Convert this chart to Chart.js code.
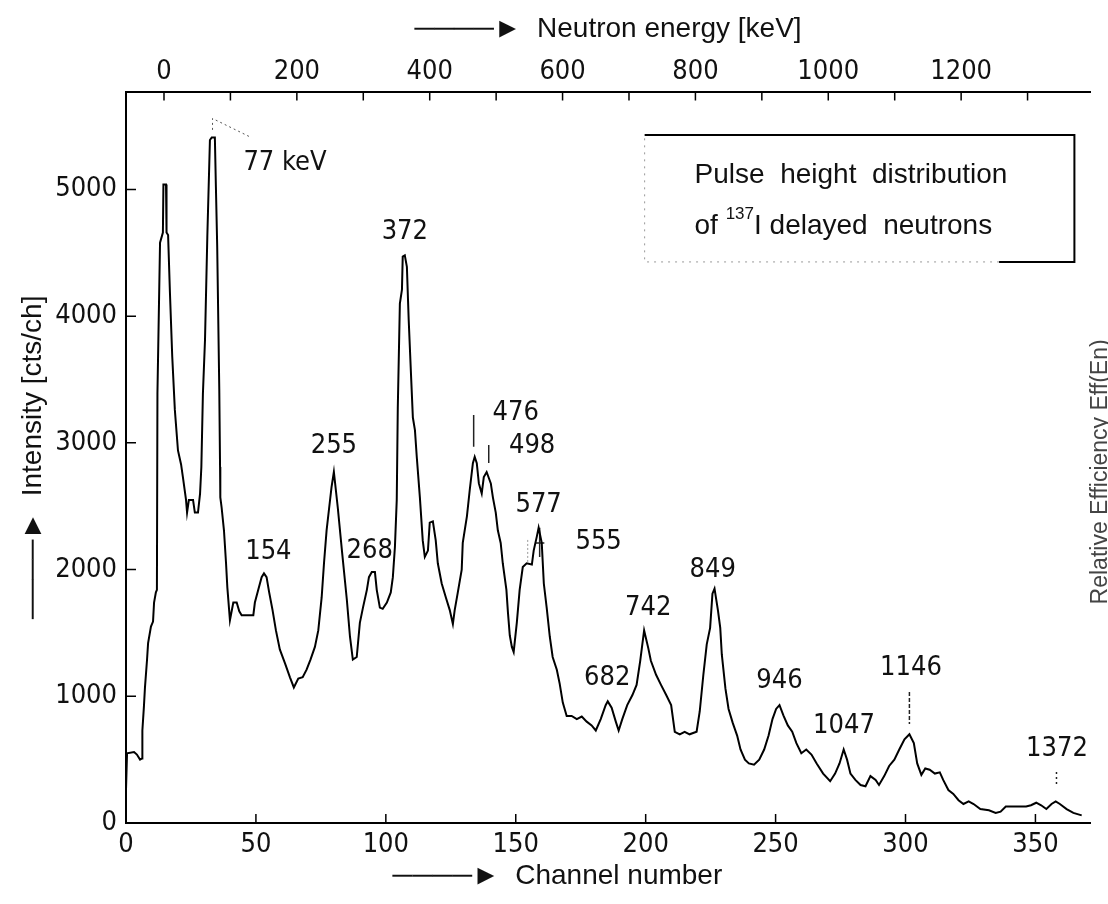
<!DOCTYPE html>
<html>
<head>
<meta charset="utf-8">
<title>Pulse height distribution of 137I delayed neutrons</title>
<script src="https://cdn.jsdelivr.net/npm/chart.js@4/dist/chart.umd.min.js"></script>
<style>
  html, body { margin: 0; padding: 0; background: #fff; }
  #wrap { position: relative; width: 1108px; height: 904px; }
</style>
</head>
<body>
<div id="wrap"><canvas id="spectrum"></canvas></div>
<script>
// spectrum (channel, counts per channel)
const channels = [
  0, 0.4, 3.1, 4.2, 5.4, 6.2, 6.3, 6.9, 7.3, 8.1, 8.5, 9.6, 10.4, 10.8, 11.5, 11.9, 12.1, 13.1, 14.2, 14.4,
  15.4, 15.6, 16.2, 16.9, 17.8, 18.8, 20.0, 21.2, 21.9, 23.1, 23.5, 24.2, 25.8, 26.5, 27.7, 28.5, 29.0, 29.6, 30.4, 31.3,
  32.3, 33.0, 34.2, 34.6, 35.1, 35.9, 36.2, 36.3, 36.8, 37.7, 38.5, 39.0, 40.0, 41.3, 42.6, 43.6, 44.5, 46.4, 49.0, 49.6,
  50.9, 52.2, 53.1, 54.1, 55.1, 56.4, 57.7, 59.2, 61.2, 63.1, 64.6, 66.3, 68.0, 69.5, 71.0, 72.7, 74.0, 75.3, 76.2, 77.2,
  78.2, 79.1, 80.0, 81.5, 83.1, 85.0, 86.2, 87.3, 88.8, 90.0, 91.2, 92.7, 93.5, 94.6, 95.8, 96.5, 97.7, 98.8, 100.4, 101.9,
  102.7, 103.5, 104.2, 104.6, 105.4, 106.2, 106.5, 107.3, 108.1, 108.8, 109.6, 110.4, 111.2, 111.9, 113.1, 114.2, 115.0, 116.2, 116.9, 118.1,
  119.2, 120.0, 121.5, 123.1, 124.6, 125.8, 126.5, 127.7, 129.2, 129.6, 131.2, 132.3, 133.5, 134.2, 135.0, 135.8, 136.9, 137.7, 138.8, 140.4,
  141.2, 142.3, 143.1, 144.2, 145.0, 146.4, 147.0, 147.7, 148.5, 149.2, 150.4, 151.5, 152.7, 154.2, 156.2, 156.9, 158.1, 158.8, 160.0, 160.8,
  161.9, 163.1, 164.2, 165.8, 166.9, 168.1, 169.6, 171.5, 173.5, 175.4, 177.3, 179.2, 180.8, 182.7, 184.6, 185.4, 186.9, 188.5, 189.6, 191.0,
  192.9, 194.9, 196.5, 197.9, 199.4, 201.0, 202.0, 204.0, 205.9, 207.9, 209.8, 211.2, 213.1, 215.0, 216.9, 219.6, 220.8, 222.2, 223.5, 224.8,
  225.7, 226.5, 227.8, 228.7, 229.3, 230.7, 231.9, 233.5, 235.2, 236.5, 238.2, 239.7, 241.7, 243.7, 245.6, 247.3, 248.8, 250.2, 251.5, 253.0,
  254.7, 256.4, 258.0, 259.9, 261.8, 263.8, 265.8, 268.3, 271.0, 272.9, 274.6, 276.2, 277.5, 278.8, 280.7, 282.7, 284.6, 286.5, 288.5, 289.8,
  291.8, 293.7, 295.7, 297.6, 299.6, 301.5, 303.2, 304.5, 306.1, 307.6, 309.3, 311.3, 313.2, 314.5, 316.5, 318.4, 320.4, 322.3, 324.3, 326.2,
  328.8, 332.1, 334.7, 336.6, 338.6, 340.5, 343.8, 346.4, 348.3, 350.3, 352.2, 354.2, 356.2, 357.8, 359.4, 362.0, 364.6, 367.8
];
const counts = [
  260, 550, 560, 540, 500, 510, 730, 920, 1070, 1290, 1420, 1550, 1590, 1740, 1820, 1840, 3390, 4580, 4660, 5040,
  5040, 4660, 4640, 4190, 3680, 3260, 2940, 2830, 2730, 2550, 2450, 2550, 2550, 2450, 2450, 2600, 2810, 3390, 3810, 4630,
  5390, 5410, 5410, 5020, 4550, 3420, 2810, 2570, 2490, 2310, 2050, 1860, 1600, 1740, 1740, 1670, 1640, 1640, 1640, 1740,
  1840, 1940, 1970, 1940, 1820, 1680, 1520, 1370, 1260, 1150, 1070, 1140, 1150, 1210, 1290, 1390, 1520, 1780, 2050, 2310,
  2490, 2650, 2770, 2490, 2150, 1760, 1470, 1290, 1310, 1580, 1700, 1840, 1940, 1980, 1980, 1840, 1700, 1690, 1740, 1820,
  1940, 2180, 2550, 3280, 4100, 4210, 4470, 4480, 4390, 3970, 3580, 3200, 3100, 2890, 2570, 2230, 2100, 2150, 2370, 2380,
  2230, 2050, 1890, 1780, 1680, 1570, 1680, 1820, 2000, 2210, 2420, 2630, 2840, 2890, 2840, 2680, 2600, 2730, 2770, 2680,
  2570, 2450, 2310, 2210, 2050, 1840, 1660, 1480, 1390, 1350, 1580, 1840, 2020, 2050, 2040, 2150, 2260, 2330, 2210, 1890,
  1700, 1470, 1310, 1210, 1100, 950, 845, 845, 820, 840, 800, 770, 730, 820, 930, 960, 910, 800, 730, 820,
  930, 1010, 1090, 1280, 1520, 1380, 1280, 1170, 1090, 1010, 930, 720, 700, 720, 700, 720, 880, 1170, 1410, 1540,
  1810, 1850, 1680, 1540, 1330, 1060, 900, 790, 690, 580, 500, 470, 460, 500, 580, 690, 820, 900, 930, 850,
  770, 720, 630, 550, 580, 540, 470, 390, 330, 390, 470, 580, 500, 390, 340, 300, 290, 370, 340, 300,
  370, 450, 500, 580, 660, 700, 630, 470, 380, 430, 420, 390, 400, 340, 260, 230, 180, 150, 170, 150,
  110, 100, 80, 90, 130, 130, 130, 130, 140, 160, 140, 110, 150, 170, 150, 110, 80, 60
];

// peak energies written on the plot, and where each label sits (channel, counts)
const peakLabels = ['77 keV', '154', '255', '268', '372', '476', '498', '577', '555', '682', '742', '849', '946', '1047', '1146', '1372'];
const peakLabelChannel = [61.2, 54.8, 80.0, 93.8, 107.3, 150.0, 156.3, 158.8, 181.9, 185.2, 201.0, 225.8, 251.5, 276.3, 302.1, 358.3];
const peakLabelCounts = [5209, 2139, 2976, 2147, 4665, 3236, 2976, 2506, 2214, 1148, 1697, 1997, 1121, 762, 1227, 588];

// short marker strokes below some labels
const markerChannel = [133.8, 139.6, 159.2, 301.5, 358.1];
const markerTop = [3220, 2984, 2330, 1034, 403];
const markerBottom = [2970, 2841, 2100, 781, 292];
const markerDashes = [[], [], [], [4, 2], [2, 3]];

// leader from the 77 keV peak to its label
const leaderChannel = [33.3, 33.3, 47.7];
const leaderCounts = [5470, 5560, 5415];

const countTicks = [0, 1000, 2000, 3000, 4000, 5000];
const channelTicks = [0, 50, 100, 150, 200, 250, 300, 350];
const energyTicks = [0, 100, 200, 300, 400, 500, 600, 700, 800, 900, 1000, 1100, 1200, 1300];
const energyLabelled = [0, 200, 400, 600, 800, 1000, 1200];

const NARROW = '"Liberation Sans Narrow", "DejaVu Sans Condensed", "Liberation Sans", sans-serif';
const SANS = '"Liberation Sans", Arial, sans-serif';
const INK = '#111';

const spectrum = channels.map((c, i) => ({ x: c, y: counts[i] }));

const markerSets = markerChannel.map((c, i) => ({
  data: [{ x: c, y: markerTop[i] }, { x: c, y: markerBottom[i] }],
  borderColor: '#222',
  borderWidth: 1.5,
  borderDash: markerDashes[i],
  pointRadius: 0
}));

// the cross bar on the 577 marker and the dotted stroke beside it
markerSets.push({
  data: [{ x: 157.4, y: 2210 }, { x: 161.0, y: 2210 }],
  borderColor: '#222', borderWidth: 1.5, pointRadius: 0
});
markerSets.push({
  data: [{ x: 154.6, y: 2234 }, { x: 154.6, y: 2052 }],
  borderColor: '#999', borderWidth: 1, borderDash: [2, 2], pointRadius: 0
});
markerSets.push({
  data: leaderChannel.map((c, i) => ({ x: c, y: leaderCounts[i] })),
  borderColor: '#555', borderWidth: 1, borderDash: [2, 3], pointRadius: 0
});

// legend frame, in data units
const box = { ch0: 199.6, ch1: 365, top: 5430, bottom: 4428, solidFrom: 336, textCh: 218.8, line1: 5115, line2: 4712 };

const annotations = {
  id: 'annotations',
  afterDraw(chart) {
    const { ctx, chartArea: area, scales: { x, y, x2 } } = chart;
    ctx.save();

    // tick marks point into the plot
    ctx.strokeStyle = '#000';
    ctx.lineWidth = 1.5;
    ctx.beginPath();
    x.ticks.forEach(t => {
      if (t.value === 0) return;
      const px = x.getPixelForValue(t.value);
      ctx.moveTo(px, area.bottom);
      ctx.lineTo(px, area.bottom - 9);
    });
    x2.ticks.forEach(t => {
      const px = x2.getPixelForValue(t.value);
      ctx.moveTo(px, area.top);
      ctx.lineTo(px, area.top + 9);
    });
    y.ticks.forEach(t => {
      if (t.value === 0) return;
      const py = y.getPixelForValue(t.value);
      ctx.moveTo(area.left, py);
      ctx.lineTo(area.left + 10, py);
    });
    ctx.stroke();

    // peak energies
    ctx.fillStyle = INK;
    ctx.font = '27px ' + NARROW;
    ctx.textAlign = 'center';
    ctx.textBaseline = 'middle';
    peakLabels.forEach((t, i) => {
      ctx.fillText(t, x.getPixelForValue(peakLabelChannel[i]), y.getPixelForValue(peakLabelCounts[i]));
    });

    // legend box
    const bx0 = x.getPixelForValue(box.ch0), bx1 = x.getPixelForValue(box.ch1);
    const by0 = y.getPixelForValue(box.top), by1 = y.getPixelForValue(box.bottom);
    const bSolid = x.getPixelForValue(box.solidFrom);
    ctx.strokeStyle = '#000';
    ctx.lineWidth = 2;
    ctx.beginPath();
    ctx.moveTo(bx0, by0);
    ctx.lineTo(bx1, by0);
    ctx.lineTo(bx1, by1);
    ctx.lineTo(bSolid, by1);
    ctx.stroke();
    ctx.strokeStyle = '#999';
    ctx.lineWidth = 1;
    ctx.setLineDash([2, 5]);
    ctx.beginPath();
    ctx.moveTo(bSolid, by1);
    ctx.lineTo(bx0, by1);
    ctx.lineTo(bx0, by0);
    ctx.stroke();
    ctx.setLineDash([]);

    const tx = x.getPixelForValue(box.textCh);
    ctx.textAlign = 'left';
    ctx.fillStyle = INK;
    ctx.font = '28px ' + SANS;
    ctx.fillText('Pulse  height  distribution', tx, y.getPixelForValue(box.line1));
    const l2 = y.getPixelForValue(box.line2);
    let cx = tx;
    ctx.fillText('of ', cx, l2);
    cx += ctx.measureText('of ').width;
    ctx.font = '17px ' + SANS;
    ctx.fillText('137', cx, l2 - 12);
    cx += ctx.measureText('137').width;
    ctx.font = '28px ' + SANS;
    ctx.fillText('I delayed  neutrons', cx, l2);

    // caption cut by the right edge of the scan
    ctx.translate(chart.width - 7, area.top + (area.bottom - area.top) * 0.52);
    ctx.rotate(-Math.PI / 2);
    ctx.textAlign = 'center';
    ctx.fillStyle = '#444';
    ctx.font = '23px ' + SANS;
    ctx.fillText('Relative Efficiency Eff(En)', 0, 0);

    ctx.restore();
  }
};

const pad = '\u00A0'.repeat(13);

new Chart(document.getElementById('spectrum'), {
  type: 'line',
  data: {
    datasets: [
      {
        label: 'Intensity',
        data: spectrum,
        borderColor: '#000',
        borderWidth: 2,
        pointRadius: 0,
        tension: 0,
        fill: false
      },
      ...markerSets
    ]
  },
  options: {
    responsive: true,
    maintainAspectRatio: false,
    animation: false,
    layout: { padding: { left: 0, right: 18, top: 0, bottom: 0 } },
    plugins: {
      legend: { display: false },
      tooltip: { enabled: false }
    },
    scales: {
      x: {
        type: 'linear',
        position: 'bottom',
        min: 0,
        max: 371,
        afterFit: s => { s.height = 81; },
        afterBuildTicks: s => { s.ticks = channelTicks.map(v => ({ value: v })); },
        grid: { display: false, drawTicks: false },
        border: { display: true, color: '#000', width: 2 },
        ticks: {
          color: INK,
          font: { family: NARROW, size: 27 },
          padding: 6,
          maxRotation: 0,
          autoSkip: false,
          callback: v => String(v)
        },
        title: {
          display: true,
          text: '\u2500\u2500\u2500\u2500\u25BA  Channel number' + pad,
          color: INK,
          font: { family: SANS, size: 28 },
          padding: { top: 0, bottom: 11 }
        }
      },
      x2: {
        type: 'linear',
        position: 'top',
        min: -57.2,
        max: 1394,
        afterFit: s => { s.height = 91.5; },
        afterBuildTicks: s => { s.ticks = energyTicks.map(v => ({ value: v })); },
        grid: { display: false, drawTicks: false },
        border: { display: true, color: '#000', width: 2 },
        ticks: {
          color: INK,
          font: { family: NARROW, size: 27 },
          padding: 3,
          maxRotation: 0,
          autoSkip: false,
          callback: v => energyLabelled.includes(v) ? String(v) : ''
        },
        title: {
          display: true,
          text: '\u2500\u2500\u2500\u2500\u25BA  Neutron energy [keV]',
          color: INK,
          font: { family: SANS, size: 28 },
          padding: { top: 12, bottom: 0 }
        }
      },
      y: {
        type: 'linear',
        position: 'left',
        min: 0,
        max: 5773,
        afterFit: s => { s.width = 126; },
        afterBuildTicks: s => { s.ticks = countTicks.map(v => ({ value: v })); },
        grid: { display: false, drawTicks: false },
        border: { display: true, color: '#000', width: 2 },
        ticks: {
          color: INK,
          font: { family: NARROW, size: 27 },
          padding: 9,
          autoSkip: false,
          callback: v => String(v)
        },
        title: {
          display: true,
          text: '\u2500\u2500\u2500\u2500\u25BA  Intensity [cts/ch]',
          color: INK,
          font: { family: SANS, size: 28 },
          padding: { top: 16, bottom: 0 }
        }
      }
    }
  },
  plugins: [annotations]
});
</script>
</body>
</html>
